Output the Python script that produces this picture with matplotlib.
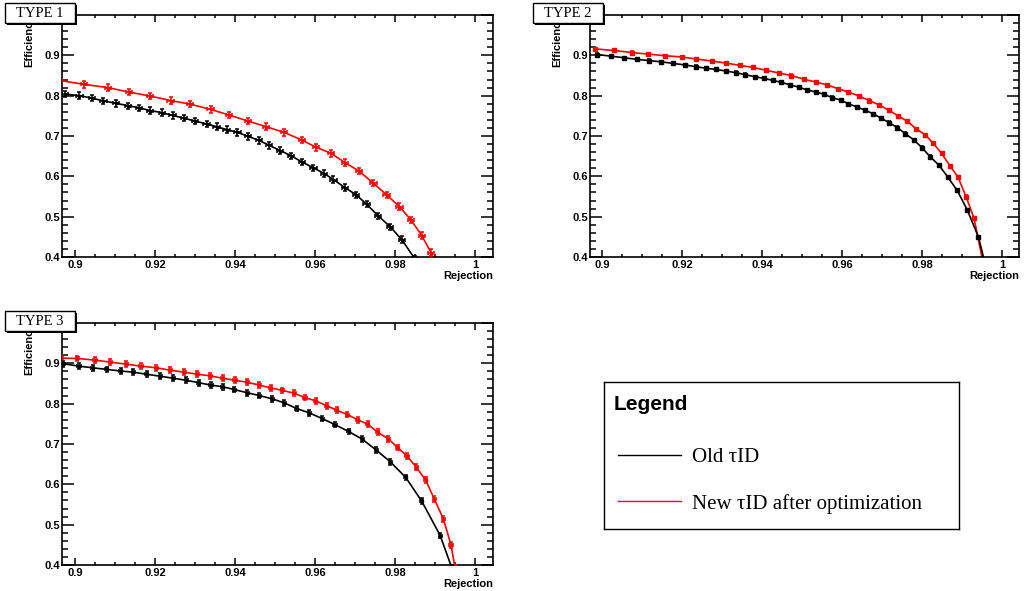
import matplotlib
matplotlib.use("Agg")
import matplotlib.pyplot as plt
import matplotlib.patches as mpatches
import matplotlib.patheffects as pe
from matplotlib.lines import Line2D
from matplotlib.ticker import MultipleLocator, FuncFormatter

plt.rcParams['font.family'] = ['Liberation Sans', 'DejaVu Sans']

# -------------------- data --------------------
T1_OLD_X = [0.8975, 0.9011, 0.9042, 0.9071, 0.9103, 0.9133, 0.9160, 0.9188, 0.9217, 0.9244,
            0.9273, 0.9300, 0.9329, 0.9354, 0.9379, 0.9406, 0.9433, 0.9460, 0.9485, 0.9513,
            0.9540, 0.9567, 0.9596, 0.9623, 0.9646, 0.9675, 0.9703, 0.9729, 0.9758, 0.9788,
            0.9817, 0.9850]
T1_OLD_Y = [0.804, 0.800, 0.794, 0.787, 0.781, 0.775, 0.770, 0.763, 0.758, 0.751,
            0.744, 0.737, 0.730, 0.723, 0.716, 0.709, 0.699, 0.689, 0.677, 0.664,
            0.651, 0.636, 0.621, 0.607, 0.592, 0.572, 0.554, 0.531, 0.502, 0.475,
            0.443, 0.395]
T1_NEW_X = [0.8960, 0.9023, 0.9082, 0.9135, 0.9188, 0.9239, 0.9288, 0.9339, 0.9385, 0.9433,
            0.9478, 0.9523, 0.9567, 0.9603, 0.9640, 0.9675, 0.9710, 0.9746, 0.9779, 0.9811,
            0.9840, 0.9867, 0.9890, 0.9899]
T1_NEW_Y = [0.838, 0.828, 0.820, 0.809, 0.799, 0.788, 0.779, 0.766, 0.752, 0.737,
            0.723, 0.709, 0.690, 0.672, 0.657, 0.634, 0.613, 0.583, 0.554, 0.525,
            0.492, 0.453, 0.411, 0.370]

T2_OLD_X = [0.8988, 0.9022, 0.9055, 0.9087, 0.9118, 0.9147, 0.9178, 0.9208, 0.9234, 0.9260,
            0.9285, 0.9310, 0.9335, 0.9358, 0.9382, 0.9404, 0.9427, 0.9448, 0.9470, 0.9492,
            0.9513, 0.9535, 0.9556, 0.9576, 0.9597, 0.9616, 0.9637, 0.9658, 0.9678, 0.9698,
            0.9718, 0.9738, 0.9758, 0.9780, 0.9800, 0.9820, 0.9842, 0.9864, 0.9888, 0.9913,
            0.9941, 0.9956]
T2_OLD_Y = [0.902, 0.898, 0.894, 0.890, 0.887, 0.884, 0.880, 0.876, 0.872, 0.868,
            0.865, 0.861, 0.857, 0.852, 0.847, 0.843, 0.838, 0.833, 0.827, 0.821,
            0.814, 0.809, 0.803, 0.795, 0.789, 0.780, 0.772, 0.764, 0.755, 0.744,
            0.733, 0.721, 0.706, 0.690, 0.671, 0.649, 0.628, 0.599, 0.565, 0.517,
            0.450, 0.390]
T2_NEW_X = [0.8983, 0.9030, 0.9074, 0.9116, 0.9158, 0.9199, 0.9235, 0.9274, 0.9309, 0.9345,
            0.9378, 0.9410, 0.9443, 0.9473, 0.9504, 0.9534, 0.9562, 0.9591, 0.9616, 0.9643,
            0.9668, 0.9693, 0.9717, 0.9740, 0.9763, 0.9785, 0.9808, 0.9828, 0.9849, 0.9870,
            0.9890, 0.9910, 0.9930, 0.9952]
T2_NEW_Y = [0.916, 0.912, 0.907, 0.903, 0.899, 0.896, 0.891, 0.886, 0.881, 0.875,
            0.870, 0.863, 0.856, 0.850, 0.841, 0.834, 0.827, 0.817, 0.809, 0.799,
            0.788, 0.777, 0.764, 0.750, 0.737, 0.718, 0.703, 0.682, 0.657, 0.626,
            0.598, 0.550, 0.496, 0.390]

T3_OLD_X = [0.8971, 0.9010, 0.9044, 0.9079, 0.9114, 0.9146, 0.9179, 0.9213, 0.9246, 0.9278,
            0.9309, 0.9340, 0.9369, 0.9398, 0.9431, 0.9461, 0.9493, 0.9523, 0.9554, 0.9586,
            0.9618, 0.9650, 0.9684, 0.9718, 0.9753, 0.9788, 0.9827, 0.9867, 0.9913, 0.9942]
T3_OLD_Y = [0.899, 0.893, 0.889, 0.885, 0.881, 0.878, 0.873, 0.868, 0.863, 0.858,
            0.852, 0.846, 0.842, 0.835, 0.827, 0.820, 0.812, 0.802, 0.788, 0.777,
            0.763, 0.748, 0.731, 0.712, 0.685, 0.656, 0.617, 0.558, 0.473, 0.393]
T3_NEW_X = [0.8965, 0.9006, 0.9050, 0.9088, 0.9128, 0.9165, 0.9203, 0.9238, 0.9273, 0.9306,
            0.9338, 0.9369, 0.9400, 0.9431, 0.9461, 0.9489, 0.9518, 0.9548, 0.9575, 0.9602,
            0.9629, 0.9654, 0.9681, 0.9707, 0.9732, 0.9757, 0.9783, 0.9807, 0.9830, 0.9853,
            0.9877, 0.9898, 0.9921, 0.9940, 0.9950]
T3_NEW_Y = [0.913, 0.912, 0.908, 0.903, 0.898, 0.893, 0.889, 0.883, 0.878, 0.873,
            0.869, 0.863, 0.858, 0.853, 0.846, 0.839, 0.833, 0.826, 0.815, 0.807,
            0.795, 0.784, 0.773, 0.760, 0.749, 0.729, 0.713, 0.691, 0.670, 0.643,
            0.610, 0.564, 0.514, 0.450, 0.393]

# error sizes per panel (y, x)
T1_ERR = (0.008, 0.0008)
T2_ERR = (0.003, 0.0002)
T3_ERR = (0.007, 0.0004)

PANEL_NAMES = ["TYPE 1", "TYPE 2", "TYPE 3"]
LEGEND_TITLE = "Legend"
LEGEND_LABELS = ["Old \u03c4ID", "New \u03c4ID after optimization"]
COLORS = ["black", "#ff0000"]

W, H = 1024, 591


def fx(px):
    return px / W


def fy(py):
    return 1 - py / H


def style_axes(ax, xmin, xmax):
    ax.set_xlim(xmin, xmax)
    ax.set_ylim(0.4, 1.0)
    ax.xaxis.set_major_locator(MultipleLocator(0.02))
    ax.xaxis.set_minor_locator(MultipleLocator(0.005))
    ax.yaxis.set_major_locator(MultipleLocator(0.1))
    ax.yaxis.set_minor_locator(MultipleLocator(0.02))
    fmt = FuncFormatter(lambda v, p: f"{v:g}")
    ax.xaxis.set_major_formatter(fmt)
    ax.yaxis.set_major_formatter(fmt)
    ax.tick_params(which="both", direction="in", top=True, right=True,
                   width=1.1, labelsize=8, colors="black")
    ax.tick_params(axis="y", which="major", length=8.6, pad=1.5)
    ax.tick_params(axis="y", which="minor", length=4.3)
    ax.tick_params(axis="x", which="major", length=5.0, pad=2)
    ax.tick_params(axis="x", which="minor", length=2.5)
    for lab in ax.get_xticklabels() + ax.get_yticklabels():
        lab.set_fontweight("bold")
    for sp in ax.spines.values():
        sp.set_linewidth(1.2)
    ax.text(1.0, -19 / 242, "Rejection", transform=ax.transAxes, ha="right",
            va="center", fontsize=8, fontweight="bold")


def draw_curve(ax, x, y, color, err, marker, ms):
    ax.plot(x, y, color=color, lw=1.2, zorder=2)
    ax.errorbar(x, y, yerr=err[0], xerr=err[1], fmt=marker, color=color, ms=ms,
                ecolor=color, elinewidth=1.1, capsize=1.6, capthick=1.1, zorder=3)


def type_box(fig, x0, y0, name):
    rect = mpatches.Rectangle((fx(x0), fy(y0 + 19.5)), fx(70), 19.5 / H,
                              transform=fig.transFigure, facecolor="white",
                              edgecolor="black", lw=1.0, zorder=5)
    rect.set_path_effects([pe.SimplePatchShadow(offset=(1.5, -1.5), shadow_rgbFace="black",
                                                alpha=1.0), pe.Normal()])
    fig.add_artist(rect)
    fig.text(fx(x0 + 35), fy(y0 + 10.5), name, ha="center", va="center",
             family=["Liberation Serif", "DejaVu Serif"], fontsize=10.5, zorder=6)


fig = plt.figure(figsize=(W / 100, H / 100), dpi=100)
fig.patch.set_facecolor("white")

# panel geometry in pixels: left, top, width, height, xmin, xmax
panels = [
    (62, 15, 431, 242, 0.89675, 1.0045),
    (590, 15, 429, 242, 0.8970, 1.00425),
    (62, 323, 431, 242, 0.89675, 1.0045),
]
datasets = [
    (T1_OLD_X, T1_OLD_Y, T1_NEW_X, T1_NEW_Y, T1_ERR, "s", 1.5),
    (T2_OLD_X, T2_OLD_Y, T2_NEW_X, T2_NEW_Y, T2_ERR, "s", 3.2),
    (T3_OLD_X, T3_OLD_Y, T3_NEW_X, T3_NEW_Y, T3_ERR, "s", 1.5),
]

for (left, top, w, h, xmin, xmax), (ox, oy, nx, ny, err, mk, ms), name in zip(panels, datasets, PANEL_NAMES):
    ax = fig.add_axes([fx(left), fy(top + h), w / W, h / H])
    style_axes(ax, xmin, xmax)
    draw_curve(ax, nx, ny, COLORS[1], err, mk, ms)
    draw_curve(ax, ox, oy, COLORS[0], err, mk, ms)
    # y title, partly hidden behind the TYPE box like in the original
    fig.text(fx(left - 33), fy(top + 26), "Efficiency", rotation=90, ha="center",
             va="center", fontsize=8, fontweight="bold", zorder=2)
    type_box(fig, left - 57, top - 12, name)

# legend panel
lax = fig.add_axes([fx(604), fy(529), 355 / W, 147 / H])
lax.set_xticks([])
lax.set_yticks([])
for sp in lax.spines.values():
    sp.set_linewidth(1.0)
lax.text(10 / 355, (529 - 405) / 147, LEGEND_TITLE, transform=lax.transAxes,
         ha="left", va="center", fontsize=15, fontweight="bold")
handles = [Line2D([], [], color=c, lw=1.0) for c in COLORS]
leg = lax.legend(handles, LEGEND_LABELS, loc="center left",
                 bbox_to_anchor=(14 / 355, (529 - 480.5) / 147),
                 frameon=False, borderaxespad=0, borderpad=0,
                 prop={"family": ["Liberation Serif", "DejaVu Serif"], "size": 15},
                 handlelength=3.0, handletextpad=0.55, labelspacing=1.3)

fig.savefig("out.png", dpi=100)
